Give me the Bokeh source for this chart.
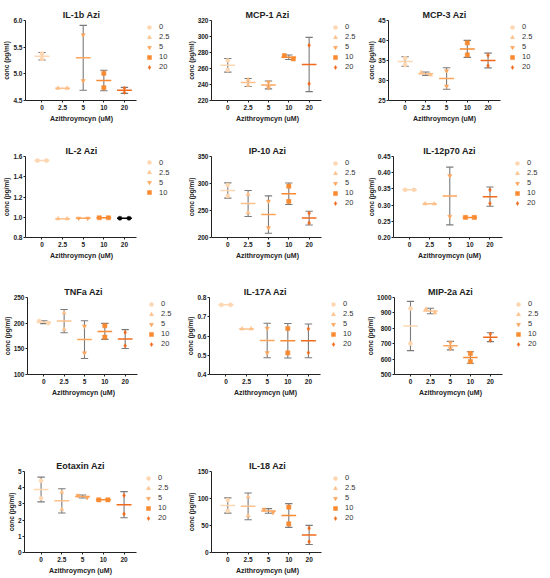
from bokeh.plotting import figure
from bokeh.models import Range1d, FixedTicker, Legend, LegendItem, ColumnDataSource, Title
from bokeh.layouts import column, row
from bokeh.embed import file_html
from bokeh.resources import INLINE
import numpy as np

# ---------------- data ----------------
doses = ["0", "2.5", "5", "10", "20"]
dose_colors = ["#FDD7B2", "#FDC08A", "#FCA55C", "#F98A30", "#F06A1C"]
dose_markers = ["circle", "triangle", "inverted_triangle", "square", "diamond"]

x_label = "Azithroymcyn (uM)"
y_label = "conc (pg/ml)"

il1b = [[5.28, 5.38], [4.73, 4.73], [5.73, 4.87], [5.01, 4.74], [4.73, 4.65]]
mcp1 = [[270, 258], [246, 239], [243, 236], [276, 272], [289, 241]]
mcp3 = [[35.6, 33.9], [32.0, 31.4], [32.4, 28.6], [39.4, 36.4], [36.3, 33.7]]
il2 = [[1.56, 1.56], [0.985, 0.985], [0.99, 0.99], [0.995, 0.995], [0.99, 0.99]]
ip10 = [[297, 277], [280, 246], [267, 218], [295, 267], [245, 227]]
il12p70 = [[0.347, 0.347], [0.304, 0.304], [0.391, 0.265], [0.262, 0.262], [0.347, 0.305]]
tnfa = [[204, 200], [220, 188], [194, 142], [195, 173], [182, 156]]
il17a = [[0.762, 0.762], [0.637, 0.637], [0.640, 0.513], [0.639, 0.512], [0.637, 0.513]]
mip2a = [[928, 702], [925, 900], [707, 668], [637, 584], [763, 722]]
eotaxin = [[4.43, 3.35], [3.72, 2.66], [3.52, 3.39], [3.25, 3.25], [3.52, 2.38]]
il18 = [[97, 77], [103, 68], [80, 74], [84, 53], [45, 20]]

il1b_ticks = ["4.5", "5.0", "5.5", "6.0"]
mcp1_ticks = ["220", "240", "260", "280", "300", "320"]
mcp3_ticks = ["25", "30", "35", "40", "45"]
il2_ticks = ["0.8", "1.0", "1.2", "1.4", "1.6"]
ip10_ticks = ["200", "250", "300", "350"]
il12p70_ticks = ["0.20", "0.25", "0.30", "0.35", "0.40", "0.45"]
tnfa_ticks = ["100", "150", "200", "250"]
il17a_ticks = ["0.4", "0.5", "0.6", "0.7", "0.8"]
mip2a_ticks = ["500", "600", "700", "800", "900", "1000"]
eotaxin_ticks = ["0", "1", "2", "3", "4", "5"]
il18_ticks = ["0", "50", "100", "150"]

il2_colors = ["#FDD7B2", "#FDC08A", "#FCA55C", "#F98A30", "#000000"]

# ---------------- layout / style ----------------
FONT = "Liberation Sans"
AX_W = 112          # pixel length of the x axis
X_LO, X_HI = -0.8, 4.6
LEFT = 24
TOP = 20
col_widths = [184, 180, 186]
row_heights = [136, 141, 174, 127]
row_bottoms = [36, 40, 77, 26]

# approximate Arial-bold advance widths (em) for centring texts
_W = {"I": .278, "L": .611, "-": .333, "b": .611, " ": .278, "A": .722, "z": .5, "i": .278,
      "M": .833, "C": .722, "P": .667, "p": .611, "T": .611, "N": .722, "F": .611, "a": .556,
      "E": .667, "o": .611, "t": .333, "x": .556, "n": .611, "(": .333, ")": .333, "u": .611,
      "h": .611, "r": .389, "y": .556, "m": .889, "c": .556}


def text_w(s, size):
    return sum(_W.get(ch, .556) for ch in s) * size


def make_panel(title, vals, ticks, col, rw, colors=None, n_legend=5):
    colors = colors or dose_colors
    w = col_widths[col]
    h = row_heights[rw]
    bottom = row_bottoms[rw]
    frame_w = w - LEFT
    frame_h = h - TOP - bottom
    units_per_px = (X_HI - X_LO) / AX_W
    x_end = X_LO + frame_w * units_per_px
    tvals = [float(t) for t in ticks]
    lo, hi = tvals[0], tvals[-1]

    p = figure(width=w, height=h, x_range=Range1d(X_LO, x_end), y_range=Range1d(lo, hi),
               output_backend="svg", toolbar_location=None,
               min_border_left=LEFT, min_border_right=0, min_border_top=TOP,
               min_border_bottom=bottom)
    p.title.text = title
    p.title.align = "left"
    p.title.offset = AX_W / 2 - text_w(title, 9) / 2
    p.title.text_font = FONT
    p.title.text_font_size = "9px"
    p.title.text_font_style = "bold"
    p.title.text_color = "#222222"
    p.title.standoff = 2
    p.grid.visible = False
    p.outline_line_color = None

    p.xaxis.ticker = FixedTicker(ticks=list(range(len(doses))))
    p.xaxis.major_label_overrides = {i: d for i, d in enumerate(doses)}
    p.xaxis.bounds = (X_LO, X_HI)
    p.yaxis.ticker = FixedTicker(ticks=tvals)
    p.yaxis.major_label_overrides = {v: t for v, t in zip(tvals, ticks)}
    p.yaxis.axis_label = y_label
    for ax in (p.xaxis, p.yaxis):
        ax.minor_tick_line_color = None
        ax.major_tick_in = 0
        ax.major_tick_out = 2
        ax.major_label_standoff = 1
        ax.axis_label_standoff = 0
        ax.major_label_text_font = FONT
        ax.major_label_text_font_size = "6.5px"
        ax.major_label_text_font_style = "bold"
        ax.major_label_text_color = "#222222"
        ax.axis_label_text_font = FONT
        ax.axis_label_text_font_style = "bold"
        ax.axis_label_text_color = "#222222"
        ax.axis_line_color = "#222222"
        ax.major_tick_line_color = "#222222"
    p.xaxis.major_label_standoff = 2
    p.yaxis.axis_label_text_font_size = "6.5px"

    xt = Title(text=x_label, align="left", offset=AX_W / 2 - text_w(x_label, 7) / 2,
               text_font=FONT, text_font_size="7px", text_font_style="bold",
               text_color="#222222", standoff=0)
    p.add_layout(xt, "below")

    px_per_unit = frame_h / (hi - lo)
    err = dict(x0=[], y0=[], x1=[], y1=[])
    means = dict(x0=[], x1=[], y=[], c=[])
    scat = []
    for i, v in enumerate(vals):
        arr = np.array(v, dtype=float)
        m = arr.mean()
        sd = arr.std(ddof=1)
        if sd > 0:
            err["x0"] += [i, i - 0.18, i - 0.18]
            err["x1"] += [i, i + 0.18, i + 0.18]
            err["y0"] += [m - sd, m - sd, m + sd]
            err["y1"] += [m + sd, m - sd, m + sd]
        means["x0"].append(i - 0.36)
        means["x1"].append(i + 0.36)
        means["y"].append(m)
        means["c"].append(colors[i])
        if abs(arr[0] - arr[1]) * px_per_unit < 4:
            xs = [i - 0.22, i + 0.22]
        else:
            xs = [i, i]
        scat.append((xs, list(arr)))

    p.segment(x0="x0", y0="y0", x1="x1", y1="y1", source=ColumnDataSource(err),
              line_color="#7a7a7a", line_width=1.1)
    p.segment(x0="x0", y0="y", x1="x1", y1="y", source=ColumnDataSource(means),
              line_color="c", line_width=1.5)
    rends = []
    for i, (xs, ys) in enumerate(scat):
        mk = dose_markers[i] if colors[i] != "#000000" else "circle"
        r = p.scatter(x=xs, y=ys, marker=mk, size=4.2, fill_color=colors[i],
                      line_color=colors[i], line_width=0.5)
        rends.append(r)

    items = [LegendItem(label=doses[i], renderers=[rends[i]]) for i in range(n_legend)]
    leg = Legend(items=items, location=(AX_W + 4, frame_h - n_legend * 10.5 + 1),
                 margin=0, padding=0, spacing=0,
                 glyph_width=16, glyph_height=10, label_height=10, label_standoff=2,
                 label_text_font=FONT, label_text_font_size="7.5px", label_text_color="#333333",
                 border_line_color=None, background_fill_alpha=0)
    p.add_layout(leg)
    return p


r1 = row(make_panel("IL-1b Azi", il1b, il1b_ticks, 0, 0),
         make_panel("MCP-1 Azi", mcp1, mcp1_ticks, 1, 0),
         make_panel("MCP-3 Azi", mcp3, mcp3_ticks, 2, 0))
r2 = row(make_panel("IL-2 Azi", il2, il2_ticks, 0, 1, colors=il2_colors, n_legend=4),
         make_panel("IP-10 Azi", ip10, ip10_ticks, 1, 1),
         make_panel("IL-12p70 Azi", il12p70, il12p70_ticks, 2, 1))
r3 = row(make_panel("TNFa Azi", tnfa, tnfa_ticks, 0, 2),
         make_panel("IL-17A Azi", il17a, il17a_ticks, 1, 2),
         make_panel("MIP-2a Azi", mip2a, mip2a_ticks, 2, 2))
r4 = row(make_panel("Eotaxin Azi", eotaxin, eotaxin_ticks, 0, 3),
         make_panel("IL-18 Azi", il18, il18_ticks, 1, 3))

layout = column(r1, r2, r3, r4)
open("out.html", "w").write(file_html(layout, INLINE))
